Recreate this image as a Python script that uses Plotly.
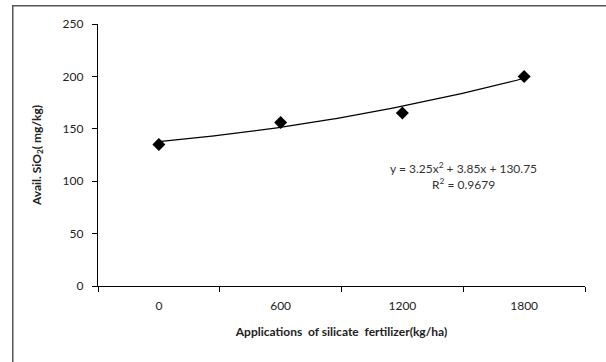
import plotly.graph_objects as go

categories = ["0", "600", "1200", "1800"]
cat_index = [1, 2, 3, 4]
avail_sio2 = [135, 156, 165, 200]
coef_a, coef_b, coef_c = 3.25, 3.85, 130.75
y_ticks = [0, 50, 100, 150, 200, 250]

# trendline from the displayed polynomial equation
n = 100
tx = [1 + 3 * i / (n - 1) for i in range(n)]
ty = [coef_a * x * x + coef_b * x + coef_c for x in tx]

W, H = 606, 362
ML, MR, MT, MB = 98, 21, 24, 76
pw = W - ML - MR
ph = H - MT - MB

font_fam = "Lato, 'Open Sans', sans-serif"
fig = go.Figure()
fig.add_trace(go.Scatter(x=tx, y=ty, mode="lines",
                         line=dict(color="black", width=1.2),
                         showlegend=False, hoverinfo="skip"))
fig.add_trace(go.Scatter(x=cat_index, y=avail_sio2, mode="markers",
                         marker=dict(symbol="diamond", size=10, color="black"),
                         showlegend=False))

fig.update_layout(
    width=W, height=H,
    margin=dict(l=ML, r=MR, t=MT, b=MB),
    paper_bgcolor="white", plot_bgcolor="white",
    font=dict(family=font_fam, size=12, color="#222"),
    xaxis=dict(range=[0.5, 4.5], tickvals=cat_index, ticktext=categories,
               ticks="", showgrid=False, zeroline=False,
               showline=True, linecolor="black", linewidth=1.2,
               tickfont=dict(size=12, color="#222"), ticklabelstandoff=8,
               minor=dict(tickvals=[0.5, 1.5, 2.5, 3.5, 4.5], ticks="outside",
                          ticklen=5, tickcolor="black", tickwidth=1, showgrid=False),
               title=dict(text="<b>Applications  of silicate  fertilizer(kg/ha)</b>",
                          font=dict(size=12, color="#222"), standoff=16)),
    yaxis=dict(range=[0, 250], tickvals=y_ticks, ticks="outside", ticklen=5,
               tickcolor="black", showgrid=False, zeroline=False,
               showline=True, linecolor="black", linewidth=1.2,
               tickfont=dict(size=12, color="#222"), ticklabelstandoff=6,
               title=dict(text="<b>Avail. SiO<sub>2</sub>( mg/kg)</b>",
                          font=dict(size=12, color="#222"), standoff=18)),
)

fig.add_annotation(x=(463 - ML) / pw, y=(H - MB - 176) / ph, xref="paper", yref="paper",
                   xanchor="center", yanchor="middle",
                   text="y = 3.25x<sup>2</sup> + 3.85x + 130.75<br>R<sup>2</sup> = 0.9679",
                   showarrow=False, align="center",
                   font=dict(size=12, color="#333", family=font_fam))

# outer chart border (left and top visible): a large empty bordered box
top_px, left_px = 5, 12
fig.add_annotation(x=(left_px - ML) / pw, y=(H - MB - top_px) / ph,
                   xref="paper", yref="paper", xanchor="left", yanchor="top",
                   text=" ", showarrow=False, width=700, height=420,
                   bordercolor="#555", borderwidth=1.5, borderpad=0,
                   bgcolor="rgba(0,0,0,0)")

fig.write_html("out.html", config={"displayModeBar": False},
               post_script="document.body.style.margin='0';document.body.style.overflow='hidden';")
